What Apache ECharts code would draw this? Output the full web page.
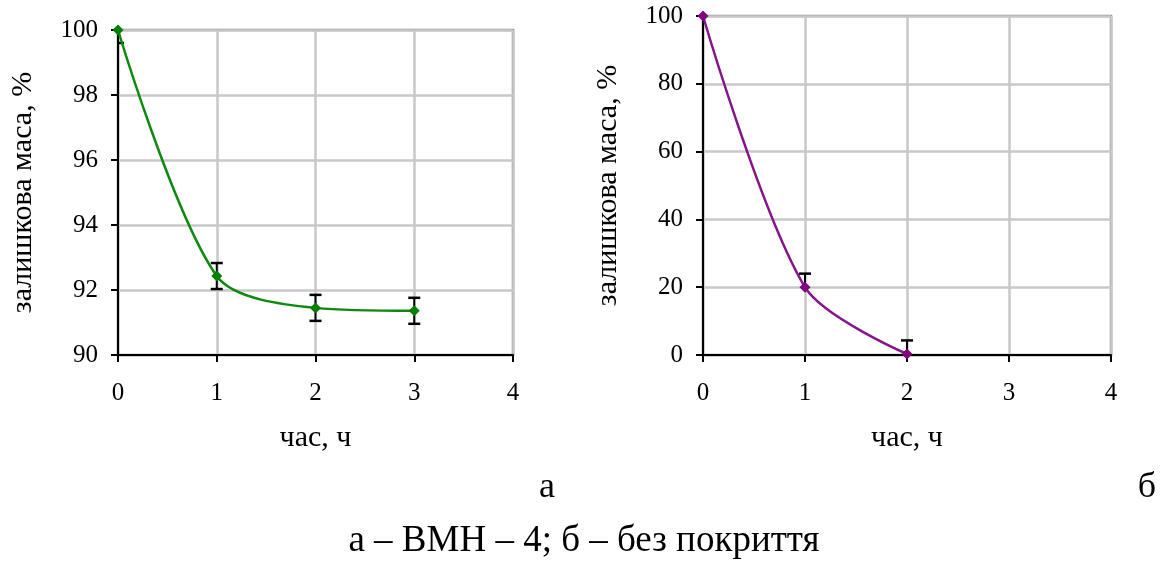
<!DOCTYPE html>
<html>
<head>
<meta charset="utf-8">
<script src="https://cdn.jsdelivr.net/npm/echarts@6/dist/echarts.min.js"></script>
<style>
html,body{margin:0;padding:0;background:#fff;}
#main{width:1169px;height:568px;}
</style>
</head>
<body>
<div id="main"></div>
<script>
// ---- data ----
const hoursA = [0, 1, 2, 3];
const massA = [100, 92.43, 91.45, 91.36];
const errA = [0.4, 0.4, 0.4, 0.4];

const hoursB = [0, 1, 2];
const massB = [100, 20, 0.3];
const errPlusB = [0, 4, 4];
const errMinusB = [0, 0, 0];

const xTicks = [0, 1, 2, 3, 4];
const yTicksA = [90, 92, 94, 96, 98, 100];
const yTicksB = [0, 20, 40, 60, 80, 100];

const yTitle = 'залишкова маса, %';
const xTitle = 'час, ч';
const labelA = 'а';
const labelB = 'б';
const caption = 'а – ВМН – 4; б – без покриття';

// ---- build ----
const FONT = '"Liberation Serif", "Times New Roman", serif';
const chart = echarts.init(document.getElementById('main'), null, {renderer: 'canvas'});

function xAxisCfg(idx) {
  return {
    type: 'value', gridIndex: idx,
    min: xTicks[0], max: xTicks[xTicks.length - 1], interval: 1,
    name: xTitle, nameLocation: 'middle', nameGap: 68,
    nameTextStyle: {fontFamily: FONT, fontSize: 30, color: '#000'},
    axisLine: {show: true, onZero: false, lineStyle: {color: '#000', width: 2}},
    axisTick: {show: true, length: 7, lineStyle: {color: '#000', width: 2}},
    axisLabel: {fontFamily: FONT, fontSize: 25, color: '#000', margin: 26},
    splitLine: {show: true, lineStyle: {color: '#c8c8c8', width: 2.5}}
  };
}
function yAxisCfg(idx, ticks) {
  return {
    type: 'value', gridIndex: idx,
    min: ticks[0], max: ticks[ticks.length - 1], interval: ticks[1] - ticks[0],
    name: yTitle, nameLocation: 'middle', nameGap: 80,
    nameTextStyle: {fontFamily: FONT, fontSize: 30, color: '#000'},
    axisLine: {show: true, onZero: false, lineStyle: {color: '#000', width: 2}},
    axisTick: {show: true, length: 7, lineStyle: {color: '#000', width: 2}},
    axisLabel: {fontFamily: FONT, fontSize: 25, color: '#000', margin: 20},
    splitLine: {show: true, lineStyle: {color: '#c8c8c8', width: 2.5}}
  };
}

function errRender(params, api) {
  const x = api.value(0), y = api.value(1), minus = api.value(2), plus = api.value(3);
  const top = api.coord([x, y + plus]);
  const bot = api.coord([x, y - minus]);
  const half = 6;
  const children = [{
    type: 'line', shape: {x1: top[0], y1: top[1], x2: bot[0], y2: bot[1]},
    style: {stroke: '#000', lineWidth: 2}
  }];
  if (plus > 0) children.push({type: 'line', shape: {x1: top[0] - half, y1: top[1], x2: top[0] + half, y2: top[1]}, style: {stroke: '#000', lineWidth: 2.5}});
  if (minus > 0) children.push({type: 'line', shape: {x1: bot[0] - half, y1: bot[1], x2: bot[0] + half, y2: bot[1]}, style: {stroke: '#000', lineWidth: 2.5}});
  return {type: 'group', children: children};
}

const lineA = hoursA.map((h, i) => [h, massA[i]]);
const lineB = hoursB.map((h, i) => [h, massB[i]]);
const errDataA = hoursA.map((h, i) => [h, massA[i], errA[i], i === 0 ? 0 : errA[i]]);
const errDataB = hoursB.map((h, i) => [h, massB[i], errMinusB[i], errPlusB[i]]);

chart.setOption({
  animation: false,
  backgroundColor: '#fff',
  grid: [
    {left: 118, top: 30, width: 395, height: 325, show: true, borderColor: '#8c8c8c', borderWidth: 2.5, backgroundColor: 'transparent'},
    {left: 703, top: 16, width: 408, height: 339, show: true, borderColor: '#8c8c8c', borderWidth: 2.5, backgroundColor: 'transparent'}
  ],
  xAxis: [xAxisCfg(0), xAxisCfg(1)],
  yAxis: [yAxisCfg(0, yTicksA), yAxisCfg(1, yTicksB)],
  series: [
    {type: 'custom', xAxisIndex: 0, yAxisIndex: 0, data: errDataA, renderItem: errRender, clip: true, z: 3},
    {type: 'line', xAxisIndex: 0, yAxisIndex: 0, data: lineA, smooth: 0.3,
     symbol: 'diamond', symbolSize: 11, itemStyle: {color: '#008000'},
     lineStyle: {color: '#0d8a0d', width: 2.5}, z: 4},
    {type: 'custom', xAxisIndex: 1, yAxisIndex: 1, data: errDataB, renderItem: errRender, clip: true, z: 3},
    {type: 'line', xAxisIndex: 1, yAxisIndex: 1, data: lineB, smooth: 0.3,
     symbol: 'diamond', symbolSize: 11, itemStyle: {color: '#800080'},
     lineStyle: {color: '#86138a', width: 2.5}, z: 4}
  ],
  graphic: [
    {type: 'text', x: 547, y: 488, style: {text: labelA, font: '36px ' + FONT, fill: '#000', align: 'center', verticalAlign: 'middle'}},
    {type: 'text', x: 1147, y: 488, style: {text: labelB, font: '36px ' + FONT, fill: '#000', align: 'center', verticalAlign: 'middle'}},
    {type: 'text', x: 584, y: 541, style: {text: caption, font: '37px ' + FONT, fill: '#000', align: 'center', verticalAlign: 'middle'}}
  ]
});
</script>
</body>
</html>
